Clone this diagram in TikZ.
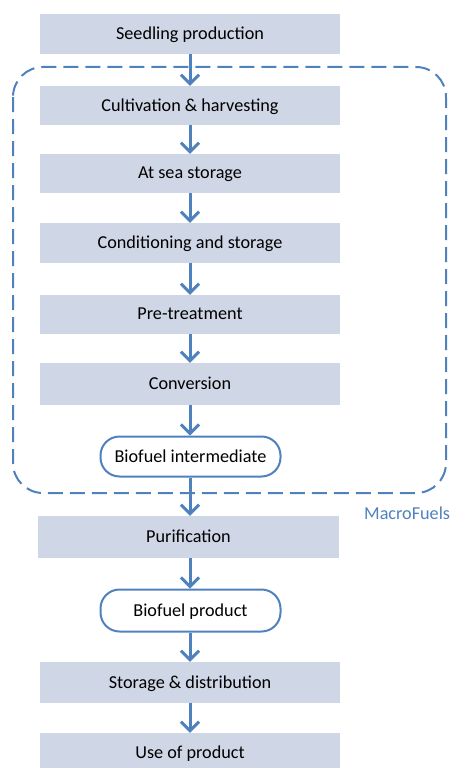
\documentclass[tikz,border=0pt]{standalone}
\usepackage{fontspec}
\setmainfont{Carlito}
\usetikzlibrary{arrows.meta}
\definecolor{boxfill}{RGB}{207,214,229}
\definecolor{accent}{RGB}{79,129,189}
\tikzset{
  stepbox/.style={fill=boxfill, minimum width=300pt, minimum height=#1, inner sep=0pt, text depth=1pt, font=\fontsize{18.2}{20}\selectfont},
  stepbox/.default=39pt,
  pill/.style={draw=accent, line width=2pt, fill=white, rounded corners=19pt, minimum width=180pt, minimum height=40pt, inner sep=0pt, text depth=1pt, font=\fontsize{18.2}{20}\selectfont},
  flow/.style={draw=accent, line width=3pt, -{Straight Barb[length=9pt,width=18pt,line width=3pt]}},
  group/.style={draw=accent, line width=2pt, dash pattern=on 15pt off 7pt, rounded corners=30pt}
}
\begin{document}
\begin{tikzpicture}[x=1pt,y=-1pt]
\useasboundingbox (0,0) rectangle (457,768);
\draw[group] (13,67) rectangle (446,493);
\node[stepbox=40pt] (s1) at (190,34) {Seedling production};
\node[stepbox] (s2) at (190,105.5) {Cultivation \& harvesting};
\node[stepbox] (s3) at (190,173.5) {At sea storage};
\node[stepbox=40pt] (s4) at (190,243) {Conditioning and storage};
\node[stepbox] (s5) at (190,314.5) {Pre-treatment};
\node[stepbox=42pt] (s6) at (190,384) {Conversion};
\node[pill] (s7) at (190.5,456.5) {Biofuel intermediate};
\node[stepbox=42pt, minimum width=301pt] (s8) at (188.5,537) {Purification};
\node[pill, minimum height=42pt] (s9) at (190.5,610.5) {Biofuel product};
\node[stepbox=41pt] (s10) at (190,682.5) {Storage \& distribution};
\node[stepbox=40pt] (s11) at (190,753) {Use of product};
\node[anchor=west, text=accent, inner sep=0pt, font=\fontsize{18.2}{20}\selectfont] (mf) at (364,513) {MacroFuels};
\foreach \a/\b in {s1/s2,s2/s3,s3/s4,s4/s5,s5/s6,s6/s7,s7/s8,s8/s9,s9/s10,s10/s11}
  \draw[flow] (\a.south -| 190,0) -- (\b.north -| 190,0);
\end{tikzpicture}
\end{document}
